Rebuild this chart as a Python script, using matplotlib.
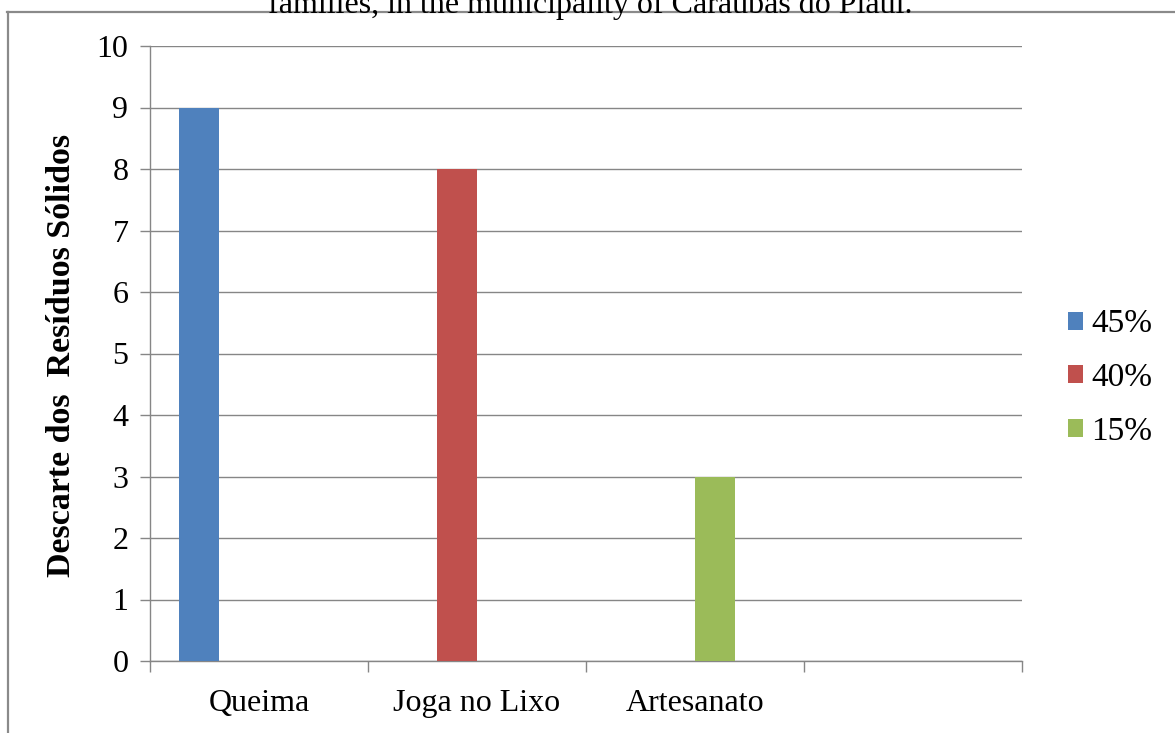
import matplotlib
matplotlib.use("Agg")
import matplotlib.pyplot as plt
from matplotlib.lines import Line2D
from matplotlib.patches import Patch
import numpy as np

plt.rcParams['font.family'] = ['Liberation Serif', 'DejaVu Serif']

# Categories (the fourth slot is empty) and one series per disposal method
categories = ["Queima", "Joga no Lixo", "Artesanato", ""]
series_labels = ["45%", "40%", "15%"]
series_values = [
    [9, 0, 0, 0],
    [0, 8, 0, 0],
    [0, 0, 3, 0],
]
series_colors = ["#4F81BD", "#C0504D", "#9BBB59"]
y_ticks = list(range(0, 11))
ylabel = "Descarte dos  Resíduos Sólidos"
caption = "families, in the municipality of Caraúbas do Piauí."

W, H = 1175, 733
fig = plt.figure(figsize=(W / 100, H / 100), dpi=100)
ax = fig.add_axes([150 / W, 1 - 661 / H, 872 / W, 615 / H])

grey = "#868686"
bar_w = 0.1835
centers = np.arange(len(categories)) + 0.5
for i, (vals, col) in enumerate(zip(series_values, series_colors)):
    ax.bar(centers + (i - 1.5) * bar_w, vals, width=bar_w, color=col, zorder=3)

ax.set_xlim(0, len(categories))
ax.set_ylim(0, 10)
ax.set_yticks(y_ticks)
ax.yaxis.grid(True, color=grey, linewidth=1.0, zorder=0)
ax.tick_params(axis='y', length=7.5, width=1.0, color=grey, pad=8, labelsize=23)

# category labels in the middle of each slot, tick marks at slot edges
ax.set_xticks(centers)
ax.set_xticklabels(categories, fontsize=23)
ax.tick_params(axis='x', which='major', length=0, pad=20)
ax.set_xticks(np.arange(len(categories) + 1), minor=True)
ax.tick_params(axis='x', which='minor', length=8, width=1.0, color=grey)

for side in ['top', 'right']:
    ax.spines[side].set_visible(False)
for side in ['left', 'bottom']:
    ax.spines[side].set_color(grey)
    ax.spines[side].set_linewidth(1.0)

fig.text(62 / W, 1 - 355 / H, ylabel, rotation=90, ha='center', va='center',
         fontsize=24.5, fontweight='bold')

handles = [Patch(facecolor=c, edgecolor='none') for c in series_colors]
fig.legend(handles, series_labels, loc='center left',
           bbox_to_anchor=(1068 / W, 1 - 378 / H), frameon=False, fontsize=24,
           handlelength=0.45, handleheight=0.45, handletextpad=0.25,
           labelspacing=0.7, borderaxespad=0, borderpad=0)

# caption line cut off at the top edge of the page
fig.text(590 / W, 1 - 13 / H, caption, ha='center', va='baseline', fontsize=23)

# frame around the chart area
frame = dict(color="#8a8a8a", linewidth=1.6, transform=fig.transFigure)
fig.add_artist(Line2D([7 / W, 1], [1 - 12 / H, 1 - 12 / H], **frame))
fig.add_artist(Line2D([8 / W, 8 / W], [0, 1 - 12 / H], **frame))

fig.savefig("out.png", dpi=100)
